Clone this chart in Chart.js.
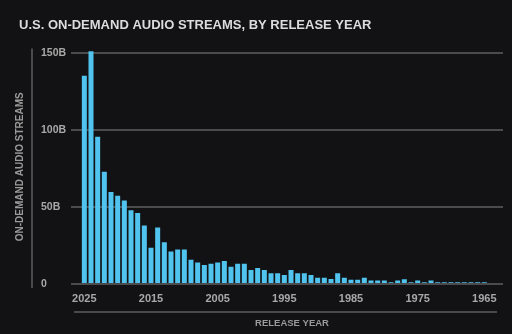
<!DOCTYPE html>
<html>
<head>
<meta charset="utf-8">
<script src="https://cdn.jsdelivr.net/npm/chart.js@4"></script>
<style>
  html, body { margin: 0; padding: 0; background: #121214; }
  #wrap { width: 512px; height: 334px; }
</style>
</head>
<body>
<div id="wrap"><canvas id="streams"></canvas></div>
<script>
// release years, newest first
const years = [
  2025, 2024, 2023, 2022, 2021, 2020, 2019, 2018, 2017, 2016,
  2015, 2014, 2013, 2012, 2011, 2010, 2009, 2008, 2007, 2006,
  2005, 2004, 2003, 2002, 2001, 2000, 1999, 1998, 1997, 1996,
  1995, 1994, 1993, 1992, 1991, 1990, 1989, 1988, 1987, 1986,
  1985, 1984, 1983, 1982, 1981, 1980, 1979, 1978, 1977, 1976,
  1975, 1974, 1973, 1972, 1971, 1970, 1969, 1968, 1967, 1966,
  1965
];
// streams in billions
const streams = [
  135, 151, 95.5, 72.8, 59.7, 57.3, 54.1, 47.8, 46.1, 37.9,
  23.5, 36.7, 27.1, 21.1, 22.4, 22.4, 15.7, 14, 12.3, 13.1,
  14, 14.9, 11.2, 13.1, 13.1, 9, 10.3, 9, 6.9, 6.9,
  5.8, 9, 6.9, 6.9, 5.8, 4.1, 4.1, 3.2, 6.9, 4.1,
  2.8, 2.8, 4.1, 2.2, 2.2, 2.2, 1.1, 2.2, 3, 1.1,
  2.2, 1.1, 2.2, 1.1, 1.1, 1.1, 1.1, 1.1, 1.1, 1.1,
  1.1
];
const yearTicks = [2025, 2015, 2005, 1995, 1985, 1975, 1965];
const streamTicks = [0, 50, 100, 150];

const FONT = "'Liberation Sans', Arial, sans-serif";

// thin separator lines next to the axis titles
const separators = {
  id: 'separators',
  afterDraw(chart) {
    const {ctx, chartArea} = chart;
    ctx.save();
    ctx.strokeStyle = '#4a4a4c';
    ctx.lineWidth = 2;
    ctx.beginPath();
    ctx.moveTo(chartArea.left - 49, chartArea.top - 1);
    ctx.lineTo(chartArea.left - 49, chartArea.bottom + 4);
    ctx.moveTo(chartArea.left - 7, chartArea.bottom + 28);
    ctx.lineTo(chartArea.right - 6, chartArea.bottom + 28);
    ctx.stroke();
    ctx.restore();
  }
};

new Chart(document.getElementById('streams'), {
  type: 'bar',
  data: {
    labels: years,
    datasets: [{
      data: streams,
      xAxisID: 'x',
      yAxisID: 'y',
      backgroundColor: '#51c3ef',
      borderWidth: 0,
      barPercentage: 0.75,
      categoryPercentage: 1
    }]
  },
  options: {
    responsive: true,
    maintainAspectRatio: false,
    animation: false,
    layout: { padding: { left: 19, right: 9, top: 10, bottom: 5 } },
    plugins: {
      legend: { display: false },
      tooltip: { enabled: false },
      title: {
        display: true,
        text: 'U.S. ON-DEMAND AUDIO STREAMS, BY RELEASE YEAR',
        align: 'start',
        color: '#dcdcdc',
        font: { family: FONT, size: 13, weight: 'bold' },
        padding: { top: 8, bottom: 16 }
      }
    },
    scales: {
      x: {
        type: 'linear',
        reverse: true,
        offset: false,
        min: 1962.2,
        max: 2025.5,
        afterBuildTicks: s => { s.ticks = yearTicks.map(v => ({ value: v })); },
        afterFit: s => { s.height = 45; },
        grid: { display: false, drawTicks: false, offset: false },
        border: { display: false },
        ticks: {
          padding: 8,
          color: '#a8a8a8',
          font: { family: FONT, size: 11, weight: 'bold' },
          maxRotation: 0,
          callback: v => String(v)
        },
        title: {
          display: true,
          text: 'RELEASE YEAR',
          color: '#9a9a9a',
          font: { family: FONT, size: 9.5, weight: 'bold' },
          padding: { top: 0, bottom: 0 }
        }
      },
      y: {
        position: 'left',
        weight: 0,
        min: 0,
        max: 152,
        afterBuildTicks: s => { s.ticks = streamTicks.map(v => ({ value: v })); },
        afterFit: s => { s.width = 40; },
        grid: { color: '#4b4b4d', lineWidth: 2, tickLength: 10 },
        border: { display: false },
        ticks: {
          crossAlign: 'far',
          color: '#a8a8a8',
          font: { family: FONT, size: 10.5, weight: 'bold' },
          callback: v => v === 0 ? '0' : v + 'B'
        }
      },
      yTitle: {
        type: 'linear',
        position: 'left',
        weight: 5,
        afterFit: s => { s.width = 22; },
        grid: { display: false },
        border: { display: false },
        ticks: { display: false },
        title: {
          display: true,
          text: 'ON-DEMAND AUDIO STREAMS',
          color: '#9a9a9a',
          font: { family: FONT, size: 10, weight: 'bold' },
          padding: { top: -5, bottom: 0 }
        }
      }
    }
  },
  plugins: [separators]
});
</script>
</body>
</html>
